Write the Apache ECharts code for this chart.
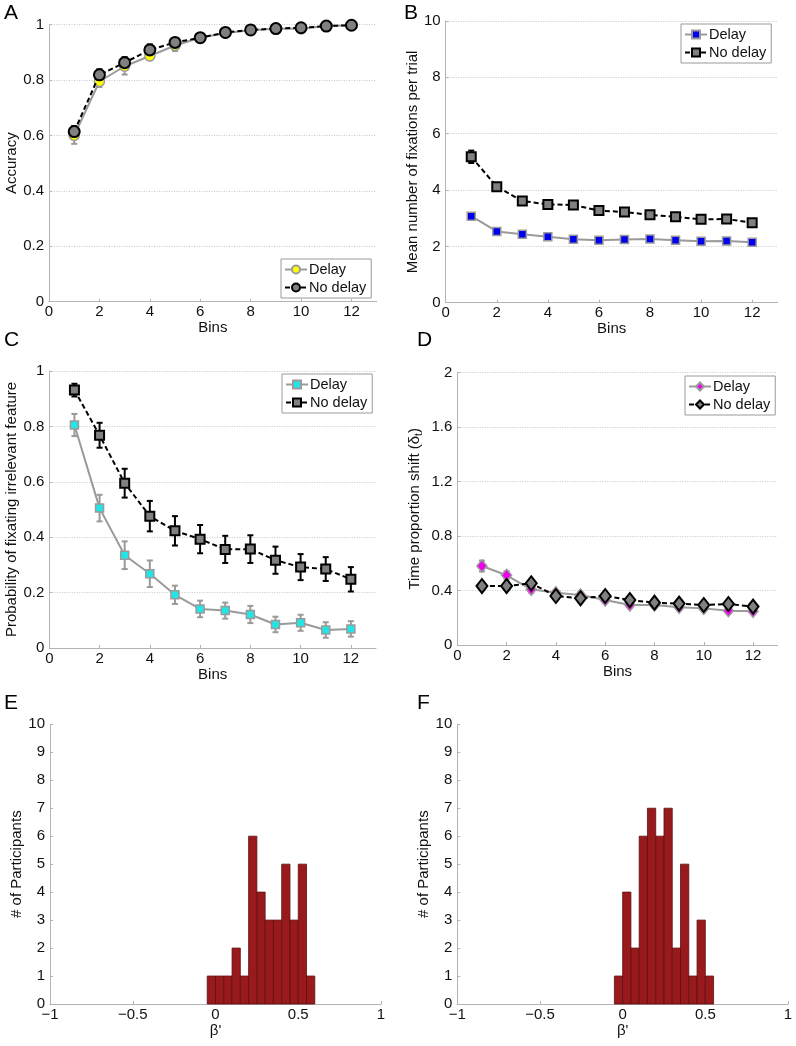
<!DOCTYPE html>
<html>
<head>
<meta charset="utf-8">
<script src="https://cdn.jsdelivr.net/npm/echarts@6/dist/echarts.min.js"></script>
<style>
html,body{margin:0;padding:0;background:#fff;}
#chart{width:796px;height:1046px;}
</style>
</head>
<body>
<div id="chart"></div>
<script>
// ---- Data ----
const bins = [1, 2, 3, 4, 5, 6, 7, 8, 9, 10, 11, 12];

// Panel A: Accuracy
const accDelay      = [0.600, 0.795, 0.850, 0.887, 0.925, 0.953, 0.970, 0.980, 0.985, 0.985, 0.995, 0.998];
const accDelayErr   = [0.030, 0.020, 0.030, 0.015, 0.020, 0.015, 0.010, 0.010, 0.008, 0.010, 0.005, 0.004];
const accNoDelay    = [0.614, 0.819, 0.863, 0.909, 0.936, 0.953, 0.972, 0.981, 0.986, 0.989, 0.995, 0.998];
const accNoDelayErr = [0.020, 0.020, 0.020, 0.020, 0.015, 0.010, 0.008, 0.008, 0.006, 0.006, 0.004, 0.003];

// Panel B: Mean number of fixations per trial
const fixDelay      = [3.07, 2.53, 2.43, 2.34, 2.25, 2.22, 2.24, 2.26, 2.22, 2.18, 2.19, 2.15];
const fixDelayErr   = [0.07, 0.06, 0.06, 0.05, 0.05, 0.05, 0.05, 0.05, 0.05, 0.05, 0.05, 0.05];
const fixNoDelay    = [5.18, 4.12, 3.61, 3.49, 3.47, 3.27, 3.22, 3.12, 3.05, 2.96, 2.97, 2.84];
const fixNoDelayErr = [0.22, 0.12, 0.10, 0.09, 0.14, 0.10, 0.08, 0.08, 0.07, 0.07, 0.07, 0.07];

// Panel C: Probability of fixating irrelevant feature
const probDelay      = [0.805, 0.505, 0.335, 0.268, 0.192, 0.141, 0.135, 0.121, 0.085, 0.091, 0.065, 0.069];
const probDelayErr   = [0.040, 0.048, 0.050, 0.048, 0.033, 0.030, 0.029, 0.031, 0.028, 0.029, 0.028, 0.028];
const probNoDelay    = [0.931, 0.768, 0.595, 0.476, 0.423, 0.393, 0.356, 0.357, 0.317, 0.292, 0.285, 0.248];
const probNoDelayErr = [0.023, 0.045, 0.052, 0.055, 0.053, 0.051, 0.049, 0.050, 0.049, 0.047, 0.043, 0.044];

// Panel D: Time proportion shift
const shiftDelay      = [0.580, 0.512, 0.409, 0.384, 0.367, 0.330, 0.294, 0.294, 0.277, 0.269, 0.252, 0.247];
const shiftDelayErr   = [0.040, 0.030, 0.025, 0.020, 0.020, 0.020, 0.020, 0.020, 0.020, 0.020, 0.020, 0.020];
const shiftNoDelay    = [0.433, 0.433, 0.453, 0.360, 0.343, 0.360, 0.330, 0.311, 0.304, 0.294, 0.301, 0.282];
const shiftNoDelayErr = [0.020, 0.020, 0.020, 0.020, 0.020, 0.020, 0.020, 0.020, 0.020, 0.020, 0.020, 0.020];

// Panels E / F: histograms of beta'
const histBinWidth = 0.05;
const histECenters = [-0.025, 0.025, 0.075, 0.125, 0.175, 0.225, 0.275, 0.325, 0.375, 0.425, 0.475, 0.525, 0.575];
const histECounts  = [1, 1, 1, 2, 1, 6, 4, 3, 3, 5, 3, 5, 1];
const histFCenters = [-0.025, 0.025, 0.075, 0.125, 0.175, 0.225, 0.275, 0.325, 0.375, 0.425, 0.475, 0.525];
const histFCounts  = [1, 4, 2, 6, 7, 6, 7, 2, 5, 1, 3, 1];

// ---- Styles ----
const FONT = 'Liberation Sans, Arial, Helvetica, sans-serif';
const FS = 15;
const AXIS_COLOR = '#b4b4b4';
const GRID_COLOR = '#c8c8c8';
const DELAY_LINE = '#9a9a9a';
const NODELAY_FACE = '#808080';

const grids = [
  {left: 49,  top: 24.7,  width: 327.7, height: 277},   // A
  {left: 445.7, top: 21,  width: 332,   height: 281.7}, // B
  {left: 49.3, top: 371,  width: 326.7, height: 277},   // C
  {left: 457.3, top: 372.7, width: 320.4, height: 272.3}, // D
  {left: 50,  top: 724.3, width: 331,   height: 279.7}, // E
  {left: 457.3, top: 724.3, width: 330.7, height: 279.7} // F
];

function xAxisBins(gi) {
  return {
    gridIndex: gi, type: 'value', min: 0, max: 13, interval: 2,
    name: 'Bins', nameLocation: 'middle', nameGap: 19,
    nameTextStyle: {fontFamily: FONT, fontSize: FS, color: '#111', verticalAlign: 'top'},
    axisLine: {show: true, onZero: false, lineStyle: {color: AXIS_COLOR, width: 1}},
    axisTick: {show: true, inside: true, length: 3, lineStyle: {color: AXIS_COLOR}},
    axisLabel: {fontFamily: FONT, fontSize: FS, color: '#111', margin: 3, showMaxLabel: false},
    splitLine: {show: false}
  };
}
function yAxisPanel(gi, max, interval, name, gap, grid, extra) {
  return {
    gridIndex: gi, type: 'value', min: 0, max: max, interval: interval,
    name: name, nameLocation: 'middle', nameGap: gap,
    nameTextStyle: Object.assign({fontFamily: FONT, fontSize: FS, color: '#111'}, extra || {}),
    axisLine: {show: true, onZero: false, lineStyle: {color: AXIS_COLOR, width: 1}},
    axisTick: {show: true, inside: true, length: 3, lineStyle: {color: AXIS_COLOR}},
    axisLabel: {fontFamily: FONT, fontSize: FS, color: '#111', margin: 5},
    splitLine: {show: grid, lineStyle: {color: GRID_COLOR, type: [1, 1.5], width: 1}}
  };
}
function xAxisBeta(gi) {
  return {
    gridIndex: gi, type: 'value', min: -1, max: 1, interval: 0.5,
    name: "\u03B2'", nameLocation: 'middle', nameGap: 18,
    nameTextStyle: {fontFamily: FONT, fontSize: FS, color: '#111', verticalAlign: 'top'},
    axisLine: {show: true, onZero: false, lineStyle: {color: AXIS_COLOR, width: 1}},
    axisTick: {show: true, inside: true, length: 3, lineStyle: {color: AXIS_COLOR}},
    axisLabel: {fontFamily: FONT, fontSize: FS, color: '#111', margin: 3,
      formatter: v => String(v).replace('-', '\u2212')},
    splitLine: {show: false}
  };
}

function pairs(arr) { return bins.map((b, i) => [b, arr[i]]); }
function errData(vals, errs) { return bins.map((b, i) => [b, vals[i], errs[i]]); }

function errSeries(gi, vals, errs, color, capHalf) {
  return {
    type: 'custom', xAxisIndex: gi, yAxisIndex: gi, z: 1, silent: true,
    encode: {x: 0, y: 1},
    data: errData(vals, errs),
    renderItem: function (params, api) {
      const x = api.value(0), y = api.value(1), e = api.value(2);
      const t = api.coord([x, y + e]);
      const b = api.coord([x, y - e]);
      const st = {stroke: color, lineWidth: 2, fill: null};
      return {type: 'group', children: [
        {type: 'line', shape: {x1: t[0], y1: t[1], x2: b[0], y2: b[1]}, style: st},
        {type: 'line', shape: {x1: t[0] - capHalf, y1: t[1], x2: t[0] + capHalf, y2: t[1]}, style: st},
        {type: 'line', shape: {x1: b[0] - capHalf, y1: b[1], x2: b[0] + capHalf, y2: b[1]}, style: st}
      ]};
    }
  };
}

function lineSeries(gi, name, vals, o) {
  return {
    type: 'line', name: name, xAxisIndex: gi, yAxisIndex: gi,
    data: pairs(vals), z: o.z, showSymbol: true, showAllSymbol: true,
    symbol: o.symbol, symbolSize: o.size,
    itemStyle: {color: o.face, borderColor: o.edge, borderWidth: o.edgeWidth},
    lineStyle: {color: o.lineColor, width: 2, type: o.dashed ? [5, 3] : 'solid'},
    emphasis: {disabled: true}, animation: false
  };
}

function histSeries(gi, centers, counts) {
  return {
    type: 'custom', xAxisIndex: gi, yAxisIndex: gi, silent: true,
    encode: {x: 0, y: 1},
    data: centers.map((c, i) => [c, counts[i]]),
    renderItem: function (params, api) {
      const c = api.value(0), n = api.value(1);
      const p0 = api.coord([c - histBinWidth / 2, n]);
      const p1 = api.coord([c + histBinWidth / 2, 0]);
      return {type: 'rect', shape: {x: p0[0], y: p0[1], width: p1[0] - p0[0], height: p1[1] - p0[1]},
        style: {fill: '#991a1c', stroke: '#5e0f10', lineWidth: 0.8}};
    }
  };
}

function legendBox(left, top, names) {
  return {
    left: left, top: top, orient: 'vertical',
    data: names, formatter: n => n.split(':')[1],
    backgroundColor: '#fff', borderColor: '#9a9a9a', borderWidth: 1,
    padding: [3, 5, 3, 3], itemGap: 3, itemWidth: 22, itemHeight: 10,
    textStyle: {fontFamily: FONT, fontSize: 14.5, color: '#111', padding: [0, 0, 0, -3]},
    selectedMode: false
  };
}

const yellowStyle = {symbol: 'circle', size: 10, face: '#ffff00', edge: '#9a9a9a', edgeWidth: 1.5, lineColor: DELAY_LINE, dashed: false, z: 2};
const greyCircle  = {symbol: 'circle', size: 11, face: NODELAY_FACE, edge: '#000', edgeWidth: 2, lineColor: '#000', dashed: true, z: 3};
const blueSquare  = {symbol: 'rect', size: 8, face: '#0000ee', edge: '#9a9a9a', edgeWidth: 1.5, lineColor: DELAY_LINE, dashed: false, z: 2};
const greySquare  = {symbol: 'rect', size: 9, face: NODELAY_FACE, edge: '#000', edgeWidth: 2, lineColor: '#000', dashed: true, z: 3};
const cyanSquare  = {symbol: 'rect', size: 8, face: '#22e6e6', edge: '#9a9a9a', edgeWidth: 1.5, lineColor: DELAY_LINE, dashed: false, z: 2};
const magDiamond  = {symbol: 'diamond', size: [10, 12], face: '#ee00ee', edge: '#9a9a9a', edgeWidth: 1.5, lineColor: DELAY_LINE, dashed: false, z: 2};
const greyDiamond = {symbol: 'diamond', size: [11, 14], face: NODELAY_FACE, edge: '#000', edgeWidth: 2, lineColor: '#000', dashed: true, z: 3};

const letters = [['A', 4, 3], ['B', 404, 3], ['C', 4, 330], ['D', 417, 330], ['E', 4, 693], ['F', 417, 693]];

const option = {
  backgroundColor: '#fff',
  animation: false,
  textStyle: {fontFamily: FONT},
  grid: grids.map(g => Object.assign({containLabel: false}, g)),
  xAxis: [xAxisBins(0), xAxisBins(1), xAxisBins(2), xAxisBins(3), xAxisBeta(4), xAxisBeta(5)],
  yAxis: [
    yAxisPanel(0, 1, 0.2, 'Accuracy', 27, true),
    yAxisPanel(1, 10, 2, 'Mean number of fixations per trial', 25, true),
    yAxisPanel(2, 1, 0.2, 'Probability of fixating irrelevant feature', 28, true),
    yAxisPanel(3, 2, 0.4, 'Time proportion shift (\u03B4{s|t})', 33, true,
      {rich: {s: {fontFamily: FONT, fontSize: 10, padding: [9, 0, 0, 0]}}}),
    yAxisPanel(4, 10, 1, '# of Participants', 24, false),
    yAxisPanel(5, 10, 1, '# of Participants', 24, false)
  ],
  legend: [
    legendBox(281, 259, ['A:Delay', 'A:No delay']),
    legendBox(681, 24, ['B:Delay', 'B:No delay']),
    legendBox(282, 374, ['C:Delay', 'C:No delay']),
    legendBox(685, 376, ['D:Delay', 'D:No delay'])
  ],
  graphic: letters.map(l => ({type: 'text', left: l[1], top: l[2],
    style: {text: l[0], font: '21px ' + FONT, fill: '#000'}})),
  series: [
    errSeries(0, accDelay, accDelayErr, DELAY_LINE, 3),
    errSeries(0, accNoDelay, accNoDelayErr, '#000', 3),
    lineSeries(0, 'A:Delay', accDelay, yellowStyle),
    lineSeries(0, 'A:No delay', accNoDelay, greyCircle),

    errSeries(1, fixDelay, fixDelayErr, DELAY_LINE, 3),
    errSeries(1, fixNoDelay, fixNoDelayErr, '#000', 3),
    lineSeries(1, 'B:Delay', fixDelay, blueSquare),
    lineSeries(1, 'B:No delay', fixNoDelay, greySquare),

    errSeries(2, probDelay, probDelayErr, DELAY_LINE, 3),
    errSeries(2, probNoDelay, probNoDelayErr, '#000', 3),
    lineSeries(2, 'C:Delay', probDelay, cyanSquare),
    lineSeries(2, 'C:No delay', probNoDelay, greySquare),

    errSeries(3, shiftDelay, shiftDelayErr, DELAY_LINE, 3),
    errSeries(3, shiftNoDelay, shiftNoDelayErr, '#000', 3),
    lineSeries(3, 'D:Delay', shiftDelay, magDiamond),
    lineSeries(3, 'D:No delay', shiftNoDelay, greyDiamond),

    histSeries(4, histECenters, histECounts),
    histSeries(5, histFCenters, histFCounts)
  ]
};

const chart = echarts.init(document.getElementById('chart'), null, {renderer: 'canvas'});
chart.setOption(option);
</script>
</body>
</html>
